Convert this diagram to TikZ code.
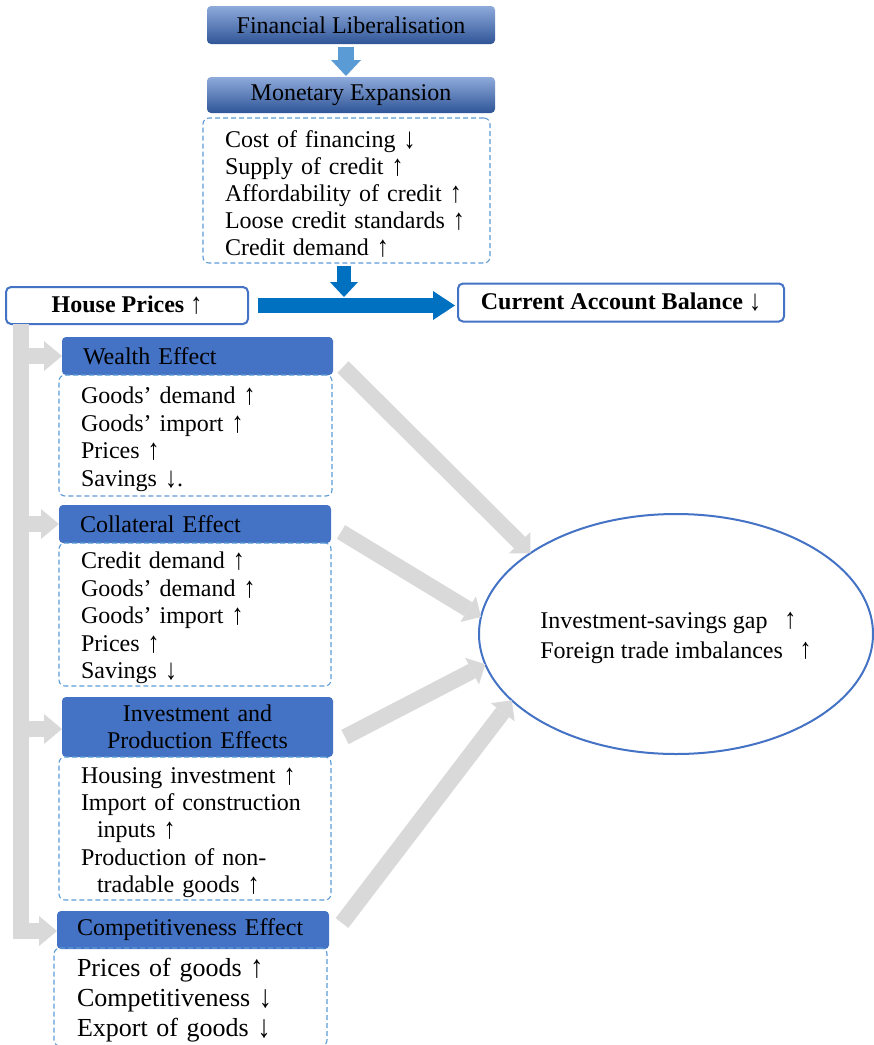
\documentclass[tikz,border=0pt]{standalone}
\usepackage{fontspec}
\setmainfont{Liberation Serif}
\usetikzlibrary{arrows.meta,shapes.geometric}
\definecolor{hdrblue}{HTML}{4472C4}
\definecolor{gradtop}{HTML}{8EAADB}
\definecolor{gradbot}{HTML}{2F5597}
\definecolor{lightblue}{HTML}{5B9BD5}
\definecolor{strongblue}{HTML}{0070C0}
\definecolor{bargray}{HTML}{D9D9D9}
\newcommand{\arrup}{\raisebox{-0.04em}{\scalebox{1}[1.22]{↑}}}
\newcommand{\arrdn}{\raisebox{-0.04em}{\scalebox{1}[1.22]{↓}}}
\newcommand{\smallup}{\scalebox{1}[1.2]{↑}}
\begin{document}
\begin{tikzpicture}[x=1pt,y=-1pt,
  every node/.style={font=\fontsize{24}{27}\selectfont, inner sep=0pt, outer sep=0pt},
  gradbox/.style={rounded corners=4pt, top color=gradtop, bottom color=gradbot, minimum width=288pt, text=black},
  hdr/.style={fill=hdrblue, rounded corners=4pt, minimum width=271pt, minimum height=38pt},
  listbox/.style={draw=lightblue, dash pattern=on 5pt off 3pt, line width=1.1pt, rounded corners=6pt, align=left, inner xsep=22pt,
    execute at begin node={\rule{0pt}{24pt}}},
  outbox/.style={draw=hdrblue, line width=2pt, fill=white, rounded corners=5pt, font=\fontsize{24}{27}\selectfont\bfseries},
  lbarrow/.style={draw=lightblue, line width=16pt, -{Triangle[width=30pt,length=16pt,line width=0pt]}},
  sbarrow/.style={draw=strongblue, line width=14pt, -{Triangle[width=28pt,length=15pt,line width=0pt]}},
  bigarrow/.style={draw=strongblue, line width=15pt, -{Triangle[width=29pt,length=22pt,line width=0pt]}},
  gbar/.style={draw=bargray, line width=16pt, -{Triangle[width=30pt,length=18pt,line width=0pt]}},
  garrow/.style={draw=bargray, line width=16pt, -{Triangle[width=30pt,length=15pt,line width=0pt]}},
]
\useasboundingbox (0,0) rectangle (874,1045);
\clip (0,0) rectangle (874,1045);

% top chain
\node[gradbox, minimum height=38pt] (fin) at (351,25) {\raisebox{-1.5pt}{Financial Liberalisation}};
\node[gradbox, minimum height=36pt] (mon) at (351,95) {\raisebox{-1.5pt}{Monetary Expansion}};
\node[listbox, text width=243pt, minimum height=145pt, execute at begin node={\rule{0pt}{20pt}}] (mlist) at (346.5,190.5)
  {Cost of financing \arrdn\\Supply of credit \arrup\\Affordability of credit \arrup\\Loose credit standards \arrup\\Credit demand \arrup};

\node[outbox, minimum width=242pt, minimum height=37pt] (hp) at (127,305.5) {\raisebox{-1.5pt}{House Prices \arrup}};
\node[outbox, minimum width=326pt, minimum height=38pt] (cab) at (621,302.5) {Current Account Balance \arrdn};

% effects
\node[hdr, text width=229pt, align=left, inner xsep=21pt] (we) at (197.5,356) {Wealth Effect};
\node[listbox, font=\fontsize{24}{27.6}\selectfont, text width=229pt, minimum height=121pt] (wel) at (195.5,435.5)
  {Goods’ demand \arrup\\Goods’ import \arrup\\Prices \arrup\\Savings \arrdn.};

\node[hdr, minimum width=272pt, text width=230pt, align=left, inner xsep=21pt] (col) at (195,524) {Collateral Effect};
\node[listbox, font=\fontsize{24}{27.5}\selectfont, minimum width=272pt, text width=228pt, minimum height=143pt] (coll) at (195,614.5)
  {Credit demand \arrup\\Goods’ demand \arrup\\Goods’ import \arrup\\Prices \arrup\\Savings \arrdn};

\node[hdr, minimum height=60pt, text width=271pt, align=center] (inv) at (197.5,727) {Investment and\\Production Effects};
\node[listbox, font=\fontsize{24}{27.3}\selectfont, minimum width=272pt, text width=228pt, minimum height=143pt] (invl) at (195,828.5)
  {Housing investment \arrup\\Import of construction\\\hspace*{16pt}inputs \arrup\\Production of non-\\\hspace*{16pt}tradable goods \arrup};

\node[hdr, minimum width=272pt, text width=232pt, align=left, inner xsep=20pt] (comp) at (193,930) {Competitiveness Effect};
\node[listbox, font=\fontsize{26}{30}\selectfont, minimum width=273pt, text width=227pt, inner xsep=23pt, minimum height=98pt] (compl) at (190.5,997)
  {Prices of goods \arrup\\Competitiveness \arrdn\\Export of goods \arrdn};

% outcome
\node[ellipse, draw=hdrblue, line width=2pt, minimum width=394pt, minimum height=240pt, align=left,
  font=\fontsize{24}{30}\selectfont] (gap) at (676,634)
  {\rule{0pt}{24pt}Investment-savings gap\hspace{0.7em}\smallup\\Foreign trade imbalances\hspace{0.7em}\smallup};

% connectors
\draw[lbarrow] ([xshift=-5pt,yshift=-3pt]fin.south) -- ([xshift=-5pt,yshift=1pt]mon.north);
\coordinate (join) at (344,297);
\draw[sbarrow] ([xshift=-2.5pt,yshift=-3pt]mlist.south) -- (join);
\draw[bigarrow] ([xshift=10pt]hp.east) -- ([xshift=-3pt]cab.west |- hp.east);

\coordinate (bartop) at ([xshift=15pt]hp.south west);
\draw[gbar] (bartop) |- ([yshift=-1pt]comp.west);
\draw[gbar] (bartop) |- ([yshift=-2pt]inv.west);
\draw[gbar] (bartop) |- (col.west);
\draw[gbar] (bartop) |- (we.west);

\draw[garrow] ([xshift=10pt,yshift=-11pt]we.east) -- (gap.151);
\draw[garrow] ([xshift=10pt,yshift=-8pt]col.east) -- (gap.175);
\draw[garrow] ([xshift=12pt,yshift=-10pt]inv.east) -- (gap.189);
\draw[garrow] ([xshift=13pt,yshift=7pt]comp.east) -- (gap.202);
\end{tikzpicture}
\end{document}
